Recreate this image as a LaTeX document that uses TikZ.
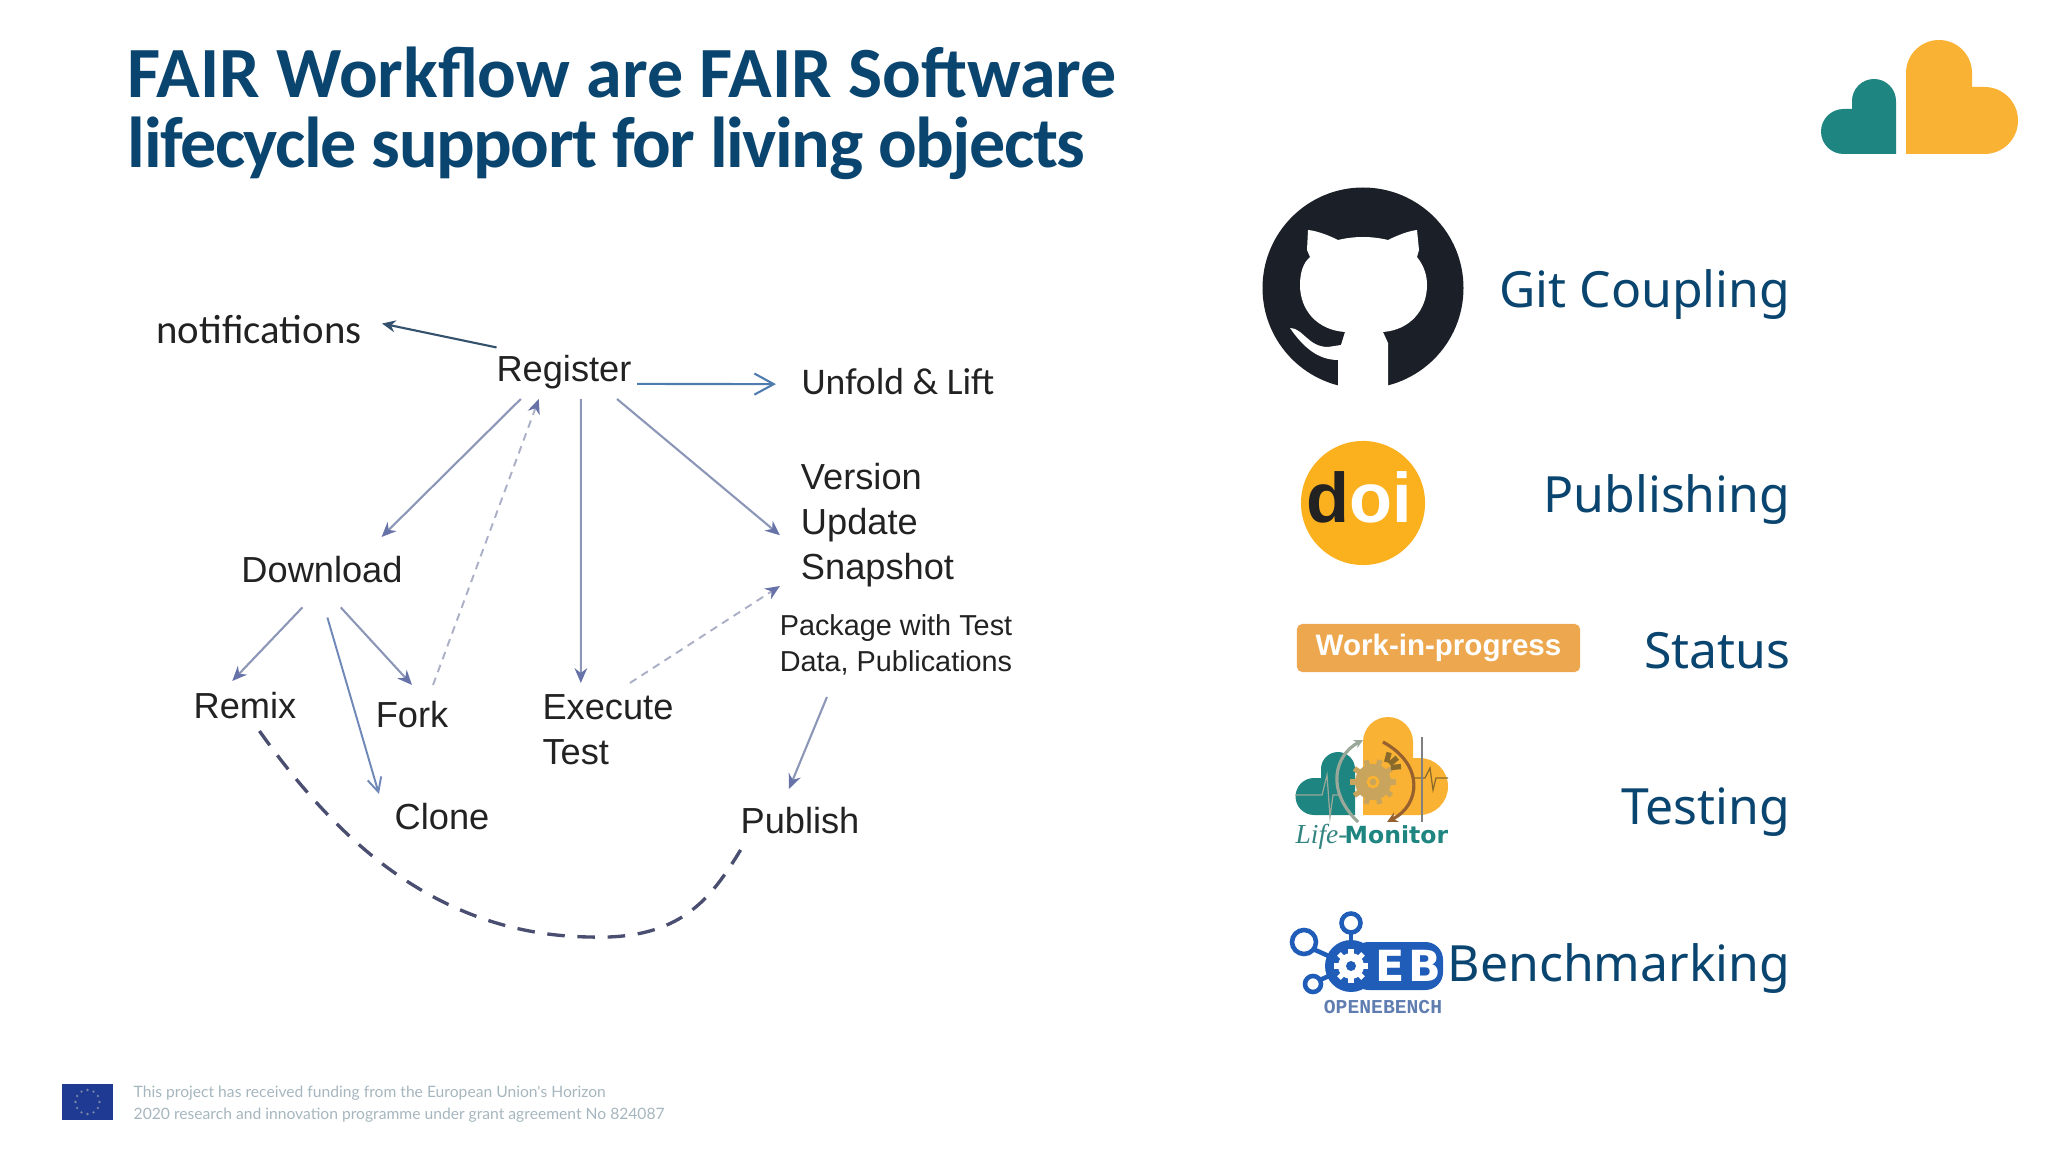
\documentclass[tikz,border=0pt]{standalone}
\usepackage{fontspec}
\setmainfont{Liberation Sans}
\newfontfamily\carlitofont{Carlito}
\newfontfamily\titletight[LetterSpace = -2]{Carlito}
\newfontfamily\notofont{Noto Sans}
\newfontfamily\dejavufont{DejaVu Sans}
\newfontfamily\latofont{Lato}
\newfontfamily\timesfont{Liberation Serif}
\newfontfamily\monofont{Liberation Mono}
\usetikzlibrary{arrows.meta}
\definecolor{fairblue}{HTML}{0A4570}
\definecolor{flowblue}{HTML}{8C97B8}
\definecolor{tipblue}{HTML}{6672A8}
\definecolor{dashgray}{HTML}{ABB0C6}
\definecolor{curvedark}{HTML}{4A4E70}
\definecolor{liftblue}{HTML}{4F7CAE}
\definecolor{cloneblue}{HTML}{7088B8}
\definecolor{notifblue}{HTML}{34526E}
\definecolor{inkdark}{HTML}{222222}
\definecolor{cattealc}{HTML}{1E8580}
\definecolor{catorange}{HTML}{F9B233}
\definecolor{hubdark}{HTML}{1B1F27}
\definecolor{doiorange}{HTML}{FBB01E}
\definecolor{wipbadge}{HTML}{EDA84F}
\definecolor{gearTan}{HTML}{C9A45C}
\definecolor{gearBrown}{HTML}{8A6A2A}
\definecolor{arcGray}{HTML}{9AA89A}
\definecolor{arcBrown}{HTML}{96602F}
\definecolor{oebblue}{HTML}{1F5DB8}
\definecolor{oebgray}{HTML}{5F7DB0}
\definecolor{footgray}{HTML}{A6B6BE}
\definecolor{flagblue}{HTML}{1F3A93}
\definecolor{flagstar}{HTML}{7A86A8}
\tikzset{
        lbl/.style = {inner sep = 0pt, outer sep = 0pt, text = inkdark, font = \fontsize{10.3}{12.8}\selectfont},
        rlbl/.style = {inner sep = 0pt, anchor = base east, text = fairblue, font = \notofont\fontsize{14.2}{17}\selectfont},
        flow/.style = {draw = flowblue, line width = 0.6pt, -{Stealth[length = 4.2pt, width = 3.6pt, color = tipblue]}},
        dashflow/.style = {draw = dashgray, line width = 0.55pt, dash pattern = on 2.2pt off 1.7pt, -{Stealth[length = 4.2pt, width = 3.6pt, color = tipblue]}},
        gearline/.style = {line width = 1.5pt}
}
\begin{document}
\begin{tikzpicture}[x = 0.01cm, y = -0.01cm]
        \useasboundingbox (0, 0) rectangle (2048, 1152);
        \node[inner sep = 0pt, anchor = west, align = left, text = fairblue, font = \carlitofont\bfseries\fontsize{20.5}{19.9}\selectfont] (title) at (127, 113) {FAIR Workflow are FAIR Software\\{\titletight\bfseries lifecycle support for living objects}};

        \node[lbl, font = \carlitofont\fontsize{11.6}{14}\selectfont, minimum width = 2.46cm, minimum height = 0.6cm] (ntf) at (259, 330) {notifications};
        \node[lbl, minimum height = 0.54cm] (reg) at (564, 372) {Register};
        \node[lbl, font = \carlitofont\fontsize{10.7}{13}\selectfont, minimum width = 2.44cm, minimum height = 0.5cm] (unf) at (898, 382) {Unfold \& Lift};
        \node[lbl, align = left, minimum width = 1.95cm, minimum height = 1.3cm] (ver) at (877.5, 525) {Version\\Update\\Snapshot};
        \node[lbl, align = left, font = \fontsize{8.2}{10.2}\selectfont, minimum height = 1.04cm] (pkg) at (896, 645) {Package with Test\\Data, Publications};
        \node[lbl, minimum height = 0.66cm] (dl) at (322, 570) {Download};
        \node[lbl, minimum height = 0.5cm] (rmx) at (245, 706) {Remix};
        \node[lbl, minimum height = 0.6cm] (frk) at (412, 715) {Fork};
        \node[lbl, minimum width = 1.26cm, minimum height = 0.46cm] (cln) at (442, 817) {Clone};
        \node[lbl, align = left, minimum height = 0.94cm] (exe) at (608, 730) {Execute\\Test};
        \node[lbl, minimum height = 0.64cm] (pub) at (800, 821) {Publish};

        \draw[notifblue, line width = 0.6pt, -{Stealth[length = 3.8pt, width = 3.4pt, inset = 1.2pt]}] (reg.160) -- (ntf.3);
        \draw[liftblue, line width = 0.6pt, shorten < = 1.6pt, -{Straight Barb[length = 5.5pt, width = 6pt]}] (reg.-10) -- (unf.181);
        \draw[flow] (reg.212) -- (dl.29);
        \draw[flow] (reg.-58) -- (exe.120);
        \draw[flow] (reg.-27) -- (ver.186);
        \draw[flow, shorten < = 1.7pt] (dl.245) -- (rmx.117);
        \draw[flow, shorten < = 1.7pt] (dl.-66) -- (frk.90);
        \draw[cloneblue, line width = 0.55pt, shorten < = 4.3pt, -{Straight Barb[length = 4pt, width = 4pt]}] (dl.-88) -- (cln.north west);
        \draw[flow] (pkg.217) -- (pub.109);
        \draw[dashflow] (frk.55) -- (reg.227);
        \draw[dashflow] (exe.65) -- (ver.212);
        \draw[curvedark, line width = 0.95pt, dash pattern = on 5pt off 3.6pt] (rmx.-60) .. controls (330, 830) and (430, 935) .. (590, 937) .. controls (680, 940) and (710, 900) .. (pub.206);

        % logo top right
        \fill[catorange] (1906, 154) -- (1906, 73) arc (180:360:33) -- (1972, 87) -- (1984.5, 87) arc (270:450:33.5) -- cycle;
        \fill[cattealc] (1896, 154) -- (1896, 101) arc (360:180:22) -- (1852, 109) -- (1843.5, 109) arc (270:90:22.5) -- cycle;

        % github
        \fill[hubdark] (1363, 288) circle (100.5);
        \fill[white] (1338, 392) -- (1338, 360) .. controls (1318, 360) and (1303, 347) .. (1290, 328) .. controls (1303, 328) and (1308, 347) .. (1328, 347) -- (1341, 345) -- (1345, 332) .. controls (1317, 330) and (1300, 310) .. (1300, 285) .. controls (1300, 273) and (1303, 263) .. (1310, 257) -- (1307, 250) -- (1308, 230) .. controls (1318, 231) and (1330, 236) .. (1338, 240) .. controls (1355, 236) and (1371, 236) .. (1388, 240) .. controls (1396, 236) and (1408, 231) .. (1417, 230) -- (1419, 250) -- (1417, 257) .. controls (1425, 267) and (1427, 277) .. (1427, 285) .. controls (1427, 310) and (1410, 330) .. (1383, 332) -- (1388, 343) -- (1388, 392) -- cycle;
        \node[rlbl] (git) at (1791, 308) {Git Coupling};

        % doi
        \node[circle, fill = doiorange, minimum size = 1.24cm, inner sep = 0pt] (doilogo) at (1363, 503) {};
        \node[inner sep = 0pt, font = \bfseries\fontsize{20}{24}\selectfont] (doitext) at (1359, 497) {\textcolor{inkdark}{d}\textcolor{white}{oi}};
        \node[rlbl] (pubs) at (1791, 513) {Publishing};

        % status
        \node[fill = wipbadge, rounded corners = 1.5pt, minimum width = 2.83cm, minimum height = 0.48cm, inner sep = 0pt, text = white, font = \bfseries\fontsize{8.4}{10}\selectfont] (wip) at (1438.5, 648) {Work-in-progress};
        \node[rlbl] (stat) at (1791, 668) {Status};

        % life monitor
        \fill[cattealc] (1355, 815) -- (1355, 769) arc (360:180:17) -- (1321, 778) -- (1314, 778) arc (270:90:18.5) -- cycle;
        \fill[catorange] (1363, 815) -- (1363, 742) arc (180:360:25) -- (1413, 758) -- (1419.5, 758) arc (270:450:28.5) -- cycle;
        \draw[arcGray, line width = 0.35pt] (1295, 795) -- (1322, 795) -- (1327, 775) -- (1330, 817) -- (1333, 795) -- (1340, 795);
        \draw[gearBrown, line width = 0.35pt] (1413, 778) -- (1425, 778) -- (1430, 768) -- (1433, 790) -- (1436, 778) -- (1448, 778);
        \foreach \a in {0, 36, ..., 324} \draw[gearTan, gearline] (1373, 782) -- ++(\a:23);
        \fill[gearTan] (1373, 782) circle (18);
        \draw[catorange, line width = 0.8pt] (1373, 782) circle (5);
        \foreach \a in {-75, -40, -5} \draw[gearBrown, line width = 1.5pt] (1385, 768) ++(\a:6) -- ++(\a:10);
        \draw[arcGray, line width = 0.9pt, -{Stealth[length = 2.5pt, width = 2.5pt]}] (1358, 822) .. controls (1325, 790) and (1335, 755) .. (1363, 740);
        \draw[arcBrown, line width = 0.9pt, -{Stealth[length = 3pt, width = 3pt]}] (1383, 742) .. controls (1425, 765) and (1420, 805) .. (1387, 822);
        \draw[gray, line width = 0.5pt] (1422, 737) -- (1422, 822);
        \node[inner sep = 0pt, anchor = base west, text = cattealc!80!gray, font = \timesfont\itshape\fontsize{7.8}{9}\selectfont] (life) at (1295, 843) {Life-};
        \node[inner sep = 0pt, anchor = base west, text = cattealc, font = \dejavufont\bfseries\fontsize{6.7}{8}\selectfont] (mon) at (1344, 843) {Monitor};
        \node[rlbl] (tst) at (1791, 824) {Testing};

        % openebench
        \draw[oebblue, line width = 1.3pt] (1351, 923) circle (9.5);
        \draw[oebblue, line width = 1.3pt] (1304, 942) circle (12);
        \draw[oebblue, line width = 1.3pt] (1313, 984) circle (8);
        \draw[oebblue, line width = 1.3pt] (1351, 933) -- (1351, 966);
        \draw[oebblue, line width = 1.3pt] (1313, 949) -- (1351, 966);
        \draw[oebblue, line width = 1.3pt] (1320, 980) -- (1351, 966);
        \fill[oebblue] (1351, 966) circle (26);
        \fill[oebblue, rounded corners = 5pt] (1351, 942) rectangle (1443, 990);
        \foreach \a in {0, 45, ..., 315} \draw[white, gearline] (1351, 966) -- ++(\a:17);
        \fill[white] (1351, 966) circle (13);
        \fill[oebblue] (1351, 966) circle (5);
        \node[inner sep = 0pt, text = white, font = \dejavufont\bfseries\fontsize{12.2}{14}\selectfont] (oebtext) at (1408, 966) {E\kern1pt B};
        \node[inner sep = 0pt, text = oebgray, font = \monofont\bfseries\fontsize{5.6}{7}\selectfont] (oebname) at (1383, 1007) {OPENEBENCH};
        \node[rlbl] (bench) at (1791, 981) {Benchmarking};

        % footer
        \fill[flagblue] (62, 1084) rectangle (113, 1120);
        \foreach \a in {0, 30, ..., 330} \fill[flagstar] (87.5, 1102) ++(\a:12) circle (1.3);
        \node[inner sep = 0pt, anchor = west, align = left, text = footgray, font = \latofont\fontsize{4.45}{6.2}\selectfont] (foot) at (133, 1104) {This project has received funding from the European Union's Horizon\\2020 research and innovation programme under grant agreement No 824087};
\end{tikzpicture}
\end{document}
